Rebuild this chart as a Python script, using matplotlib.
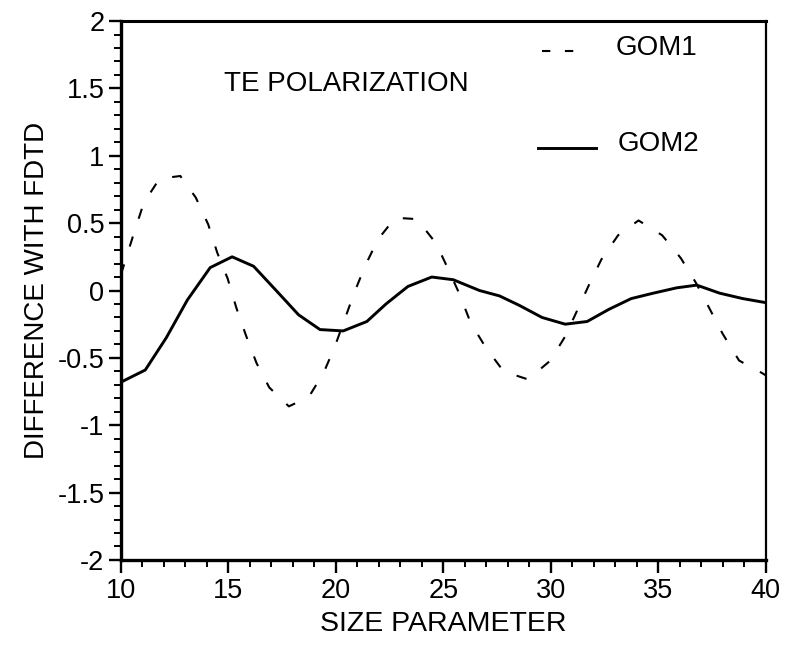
import numpy as np
import matplotlib
matplotlib.use("Agg")
import matplotlib.pyplot as plt
from matplotlib.ticker import MultipleLocator, FormatStrFormatter

plt.rcParams['font.family'] = ['Liberation Sans', 'DejaVu Sans']
plt.rcParams['axes.unicode_minus'] = False

# GOM1 (dashed)
gom1_x = [10.0, 10.63, 11.06, 11.79, 12.76, 13.48, 14.06, 14.48, 14.96, 15.37,
          15.83, 16.31, 16.9, 17.81, 18.74, 19.43, 19.94, 20.44, 20.87, 21.38,
          21.96, 22.76, 23.77, 24.66, 25.25, 25.76, 26.27, 26.96, 27.8, 28.94,
          29.98, 30.67, 31.25, 31.8, 32.35, 33.13, 34.08, 35.18, 36.05, 36.74,
          37.37, 37.99, 38.76, 39.8, 40.0]
gom1_y = [0.12, 0.44, 0.65, 0.83, 0.85, 0.69, 0.49, 0.28, 0.09, -0.13,
          -0.34, -0.54, -0.72, -0.86, -0.79, -0.61, -0.42, -0.20, -0.01, 0.19,
          0.38, 0.54, 0.53, 0.35, 0.15, -0.03, -0.24, -0.42, -0.60, -0.66,
          -0.52, -0.34, -0.14, 0.05, 0.23, 0.41, 0.52, 0.41, 0.24, 0.06,
          -0.13, -0.32, -0.52, -0.61, -0.63]

# GOM2 (solid)
gom2_x = [10.0, 11.13, 12.11, 13.09, 14.15, 15.17, 16.17, 17.22, 18.26, 19.26,
          20.34, 21.44, 22.33, 23.35, 24.46, 25.46, 26.68, 27.61, 28.53, 29.59,
          30.67, 31.69, 32.7, 33.74, 34.76, 35.86, 36.79, 37.86, 38.93, 40.0]
gom2_y = [-0.68, -0.59, -0.35, -0.07, 0.17, 0.25, 0.18, 0.0, -0.18, -0.29,
          -0.30, -0.23, -0.10, 0.03, 0.10, 0.08, 0.0, -0.04, -0.11, -0.20,
          -0.25, -0.23, -0.14, -0.06, -0.02, 0.02, 0.04, -0.02, -0.06, -0.09]

fig = plt.figure(figsize=(7.96, 6.58), dpi=100)
ax = fig.add_axes([0.152, 0.149, 0.810, 0.819])

ax.plot(gom1_x, gom1_y, color='black', lw=1.5, dashes=(5, 9))
ax.plot(gom2_x, gom2_y, color='black', lw=2.1)

# legend drawn by hand like the original
ax.plot([29.6, 31.5], [1.78, 1.78], color='black', lw=1.5, dashes=(4, 7))
ax.text(33.0, 1.80, 'GOM1', fontsize=20, va='center', ha='left')
ax.plot([29.4, 32.1], [1.06, 1.06], color='black', lw=2.1)
ax.text(33.1, 1.09, 'GOM2', fontsize=20, va='center', ha='left')
ax.text(14.8, 1.53, 'TE POLARIZATION', fontsize=20, va='center', ha='left')

ax.set_xlim(10, 40)
ax.set_ylim(-2, 2)
ax.xaxis.set_major_locator(MultipleLocator(5))
ax.xaxis.set_minor_locator(MultipleLocator(1))
ax.yaxis.set_major_locator(MultipleLocator(0.5))
ax.yaxis.set_minor_locator(MultipleLocator(0.1))
ax.yaxis.set_major_formatter(FormatStrFormatter('%g'))

ax.tick_params(which='major', direction='out', length=9, width=1.7,
               labelsize=19.5, top=False, right=False)
ax.tick_params(which='minor', direction='out', length=5, width=1.4,
               top=False, right=False)
ax.tick_params(axis='x', which='major', pad=4)
ax.tick_params(axis='y', which='major', pad=3)

for side in ['left', 'bottom']:
    ax.spines[side].set_linewidth(2.4)
ax.spines['top'].set_linewidth(2.2)
ax.spines['right'].set_linewidth(1.6)

ax.set_xlabel('SIZE PARAMETER', fontsize=20.5, labelpad=5)
ax.set_ylabel('DIFFERENCE WITH FDTD', fontsize=20, labelpad=5)

fig.savefig('out.png', dpi=100)
